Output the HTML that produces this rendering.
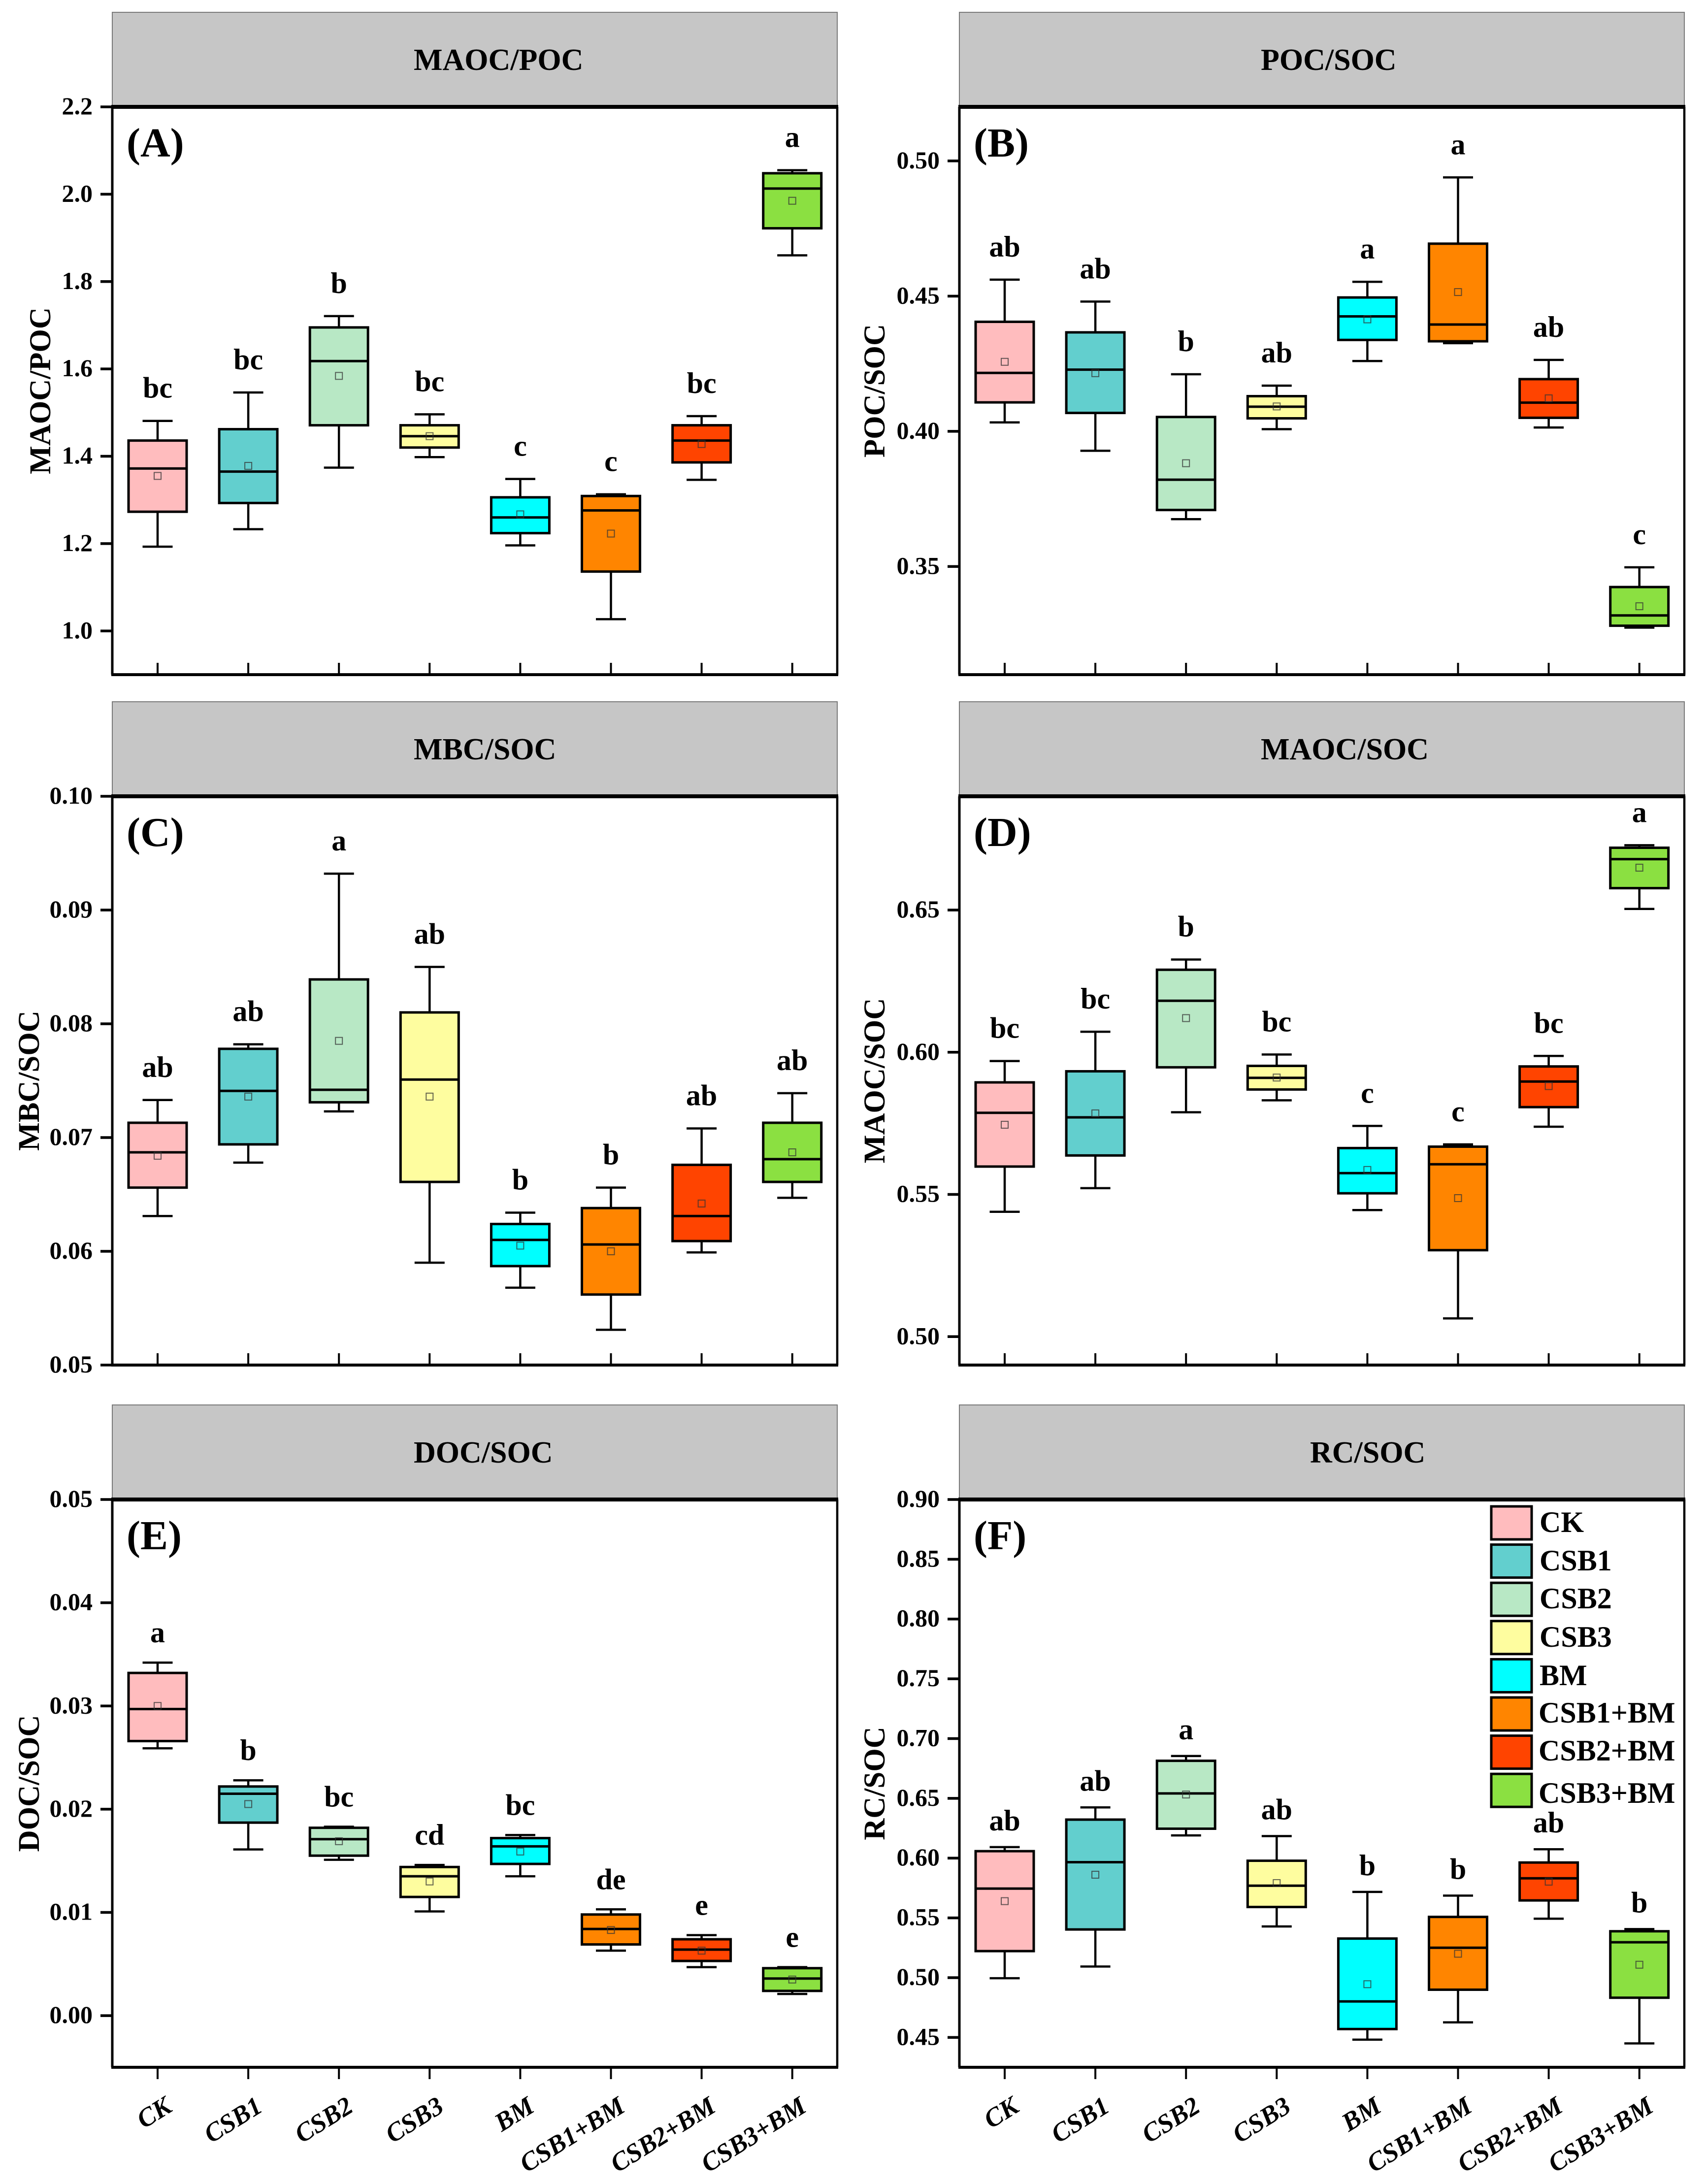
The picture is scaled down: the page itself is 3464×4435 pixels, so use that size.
<!DOCTYPE html>
<html lang="en">
<head>
<meta charset="utf-8">
<title>Soil carbon fraction ratios by treatment</title>
<style>
html,body{margin:0;padding:0;background:#fff;width:3464px;height:4435px;overflow:hidden}
svg{display:block}
text{font-family:"Liberation Serif","Times New Roman",serif;font-weight:bold;fill:#000}
</style>
</head>
<body>
<svg id="chart" xmlns="http://www.w3.org/2000/svg" width="3464" height="4435" viewBox="0 0 3464 4435"></svg>
<script>
const categories = ['CK','CSB1','CSB2','CSB3','BM','CSB1+BM','CSB2+BM','CSB3+BM'];
const boxColors = ['#ffbcbe','#62cfce','#b8e8c5','#fefd9f','#00ffff','#ff8500','#ff4400','#8be041'];

const aTicks = ['1.0','1.2','1.4','1.6','1.8','2.0','2.2'];
const aHigh = [1.481,1.546,1.721,1.496,1.348,1.313,1.492,2.055];
const aQ3 = [1.436,1.462,1.695,1.471,1.306,1.309,1.471,2.048];
const aMedian = [1.372,1.365,1.618,1.446,1.260,1.276,1.436,2.013];
const aQ1 = [1.273,1.293,1.471,1.420,1.224,1.136,1.386,1.922];
const aLow = [1.193,1.233,1.374,1.398,1.196,1.027,1.346,1.860];
const aMean = [1.355,1.378,1.584,1.446,1.267,1.223,1.428,1.985];
const aLetters = ['bc','bc','b','bc','c','c','bc','a'];

const bTicks = ['0.35','0.40','0.45','0.50'];
const bHigh = [.4561,.4480,.4211,.4169,.4553,.4939,.4264,.3497];
const bQ3 = [.4405,.4366,.4053,.4130,.4495,.4694,.4193,.3424];
const bMedian = [.4216,.4228,.3821,.4091,.4425,.4395,.4106,.3319];
const bQ1 = [.4107,.4068,.3709,.4048,.4338,.4333,.4050,.3281];
const bLow = [.4033,.3928,.3675,.4008,.4260,.4326,.4014,.3274];
const bMean = [.4257,.4215,.3882,.4092,.4414,.4515,.4122,.3353];
const bLetters = ['ab','ab','b','ab','a','a','ab','c'];

const cTicks = ['0.05','0.06','0.07','0.08','0.09','0.10'];
const cHigh = [.0733,.0782,.0932,.0850,.0634,.0656,.0708,.0739];
const cQ3 = [.0713,.0778,.0839,.0810,.0624,.0638,.0676,.0713];
const cMedian = [.0687,.0741,.0742,.0751,.0610,.0606,.0631,.0681];
const cQ1 = [.0656,.0694,.0731,.0661,.0587,.0562,.0609,.0661];
const cLow = [.0631,.0678,.0723,.0590,.0568,.0531,.0599,.0647];
const cMean = [.0684,.0736,.0785,.0736,.0605,.0600,.0642,.0687];
const cLetters = ['ab','ab','a','ab','b','b','ab','ab'];

const dTicks = ['0.50','0.55','0.60','0.65'];
const dHigh = [.5969,.6072,.6326,.5992,.5741,.5676,.5987,.6728];
const dQ3 = [.5894,.5933,.6290,.5952,.5663,.5668,.5950,.6719];
const dMedian = [.5787,.5771,.6181,.5910,.5575,.5606,.5897,.6679];
const dQ1 = [.5598,.5637,.5947,.5869,.5504,.5304,.5807,.6577];
const dLow = [.5439,.5522,.5789,.5831,.5445,.5064,.5738,.6504];
const dMean = [.5745,.5785,.6120,.5911,.5586,.5487,.5881,.6649];
const dLetters = ['bc','bc','b','bc','c','c','bc','a'];

const eTicks = ['0.00','0.01','0.02','0.03','0.04','0.05'];
const eHigh = [.0342,.0228,.0183,.0146,.0175,.0103,.0078,.0047];
const eQ3 = [.0332,.0222,.0182,.0144,.0172,.0098,.0074,.0046];
const eMedian = [.0297,.0215,.0171,.0135,.0164,.0084,.0064,.0036];
const eQ1 = [.0266,.0187,.0155,.0115,.0147,.0069,.0053,.0024];
const eLow = [.0259,.0161,.0151,.0101,.0135,.0063,.0047,.0021];
const eMean = [.0300,.0205,.0169,.0130,.0159,.0083,.0063,.0035];
const eLetters = ['a','b','bc','cd','bc','de','e','e'];

const fTicks = ['0.45','0.50','0.55','0.60','0.65','0.70','0.75','0.80','0.85','0.90'];
const fHigh = [.6092,.6424,.6854,.6184,.5717,.5686,.6074,.5406];
const fQ3 = [.6058,.6322,.6814,.5978,.5327,.5508,.5963,.5388];
const fMedian = [.5745,.5966,.6541,.5769,.4801,.5250,.5831,.5296];
const fQ1 = [.5222,.5403,.6246,.5591,.4570,.4899,.5646,.4832];
const fLow = [.4995,.5093,.6190,.5428,.4481,.4626,.5493,.4450];
const fMean = [.5640,.5861,.6532,.5791,.4945,.5200,.5803,.5108];
const fLetters = ['ab','ab','a','ab','b','b','ab','b'];

const panels = [
 {key:'a',tag:'(A)',title:'MAOC/POC',axis:'MAOC/POC',left:228,top:217,bottom:1370,stripTop:25,titleX:840,axisX:102,min:.9,max:2.2,ticks:aTicks,hi:aHigh,q3:aQ3,med:aMedian,q1:aQ1,lo:aLow,mean:aMean,letters:aLetters,letterGap:47,xLabels:false},
 {key:'b',tag:'(B)',title:'POC/SOC',axis:'POC/SOC',left:1948,top:217,bottom:1370,stripTop:25,titleX:2560,axisX:1796,min:.31,max:.52,ticks:bTicks,hi:bHigh,q3:bQ3,med:bMedian,q1:bQ1,lo:bLow,mean:bMean,letters:bLetters,letterGap:47,xLabels:false},
 {key:'c',tag:'(C)',title:'MBC/SOC',axis:'MBC/SOC',left:228,top:1617,bottom:2772,stripTop:1425,titleX:840,axisX:79,min:.05,max:.10,ticks:cTicks,hi:cHigh,q3:cQ3,med:cMedian,q1:cQ1,lo:cLow,mean:cMean,letters:cLetters,letterGap:47,xLabels:false},
 {key:'d',tag:'(D)',title:'MAOC/SOC',axis:'MAOC/SOC',left:1948,top:1617,bottom:2772,stripTop:1425,titleX:2560,axisX:1796,min:.49,max:.69,ticks:dTicks,hi:dHigh,q3:dQ3,med:dMedian,q1:dQ1,lo:dLow,mean:dMean,letters:dLetters,letterGap:47,xLabels:false},
 {key:'e',tag:'(E)',title:'DOC/SOC',axis:'DOC/SOC',left:228,top:3045,bottom:4198,stripTop:2853,titleX:840,axisX:79,min:-.005,max:.05,ticks:eTicks,hi:eHigh,q3:eQ3,med:eMedian,q1:eQ1,lo:eLow,mean:eMean,letters:eLetters,letterGap:41,xLabels:true},
 {key:'f',tag:'(F)',title:'RC/SOC',axis:'RC/SOC',left:1948,top:3045,bottom:4198,stripTop:2853,titleX:2660,axisX:1796,min:.425,max:.90,ticks:fTicks,hi:fHigh,q3:fQ3,med:fMedian,q1:fQ1,lo:fLow,mean:fMean,letters:fLetters,letterGap:34,xLabels:true}
];

const legendBaselines = [3111,3189,3266,3344,3422,3498,3575,3661];

const NS = 'http://www.w3.org/2000/svg';
const root = document.getElementById('chart');
const PANEL_W = 1472, STRIP_H = 192, BAND = 184.1, FIRST = 92, BOX_W = 118, CAP_W = 61, TICK = 24;

function mk(parent, tag, attrs, txt){
  const n = document.createElementNS(NS, tag);
  for (const k in attrs) n.setAttribute(k, attrs[k]);
  if (txt !== undefined) n.textContent = txt;
  parent.appendChild(n);
  return n;
}
function line(parent, x1, y1, x2, y2, w){
  return mk(parent, 'line', {x1:x1, y1:y1, x2:x2, y2:y2, stroke:'#000', 'stroke-width':w});
}

panels.forEach(function(p){
  const right = p.left + PANEL_W;
  const y = function(v){ return p.bottom - (v - p.min) / (p.max - p.min) * (p.bottom - p.top); };
  const x = function(i){ return p.left + FIRST + i * BAND; };

  const g = mk(root, 'g', {});
  
  

  const strip = mk(g, 'rect', {x:p.left, y:p.stripTop, width:PANEL_W, height:STRIP_H, fill:'#c6c6c6', stroke:'#7a7a7a', 'stroke-width':2});
  
  

  const title = mk(g, 'text', {x:p.titleX, y:p.stripTop + 117, 'font-size':62}, p.title);
  
  

  const plot = mk(g, 'rect', {x:p.left, y:p.top, width:PANEL_W, height:p.bottom - p.top, fill:'#fff'});
  
  

  p.ticks.forEach(function(label){
    const v = parseFloat(label);
    const tick = line(g, p.left - TICK, y(v), p.left, y(v), 5.5);
    
    
    const t = mk(g, 'text', {x:p.left - 40, y:y(v) + 15, 'font-size':50, 'text-anchor':'end'}, label);
    
    
  });

  const cy = (p.top + p.bottom) / 2;
  const axisTitle = mk(g, 'text', {x:p.axisX, y:cy, 'font-size':61, 'text-anchor':'middle', transform:'rotate(-90 ' + p.axisX + ' ' + cy + ')'}, p.axis);
  
  

  const tag = mk(g, 'text', {x:p.left + 29, y:p.top + 101, 'font-size':84}, p.tag);
  
  

  categories.forEach(function(cat, i){
    const cx = x(i);
    const box = mk(g, 'g', {});
    
    

    const whisker = line(box, cx, y(p.hi[i]), cx, y(p.lo[i]), 4.5);
    
    
    const capHi = line(box, cx - CAP_W / 2, y(p.hi[i]), cx + CAP_W / 2, y(p.hi[i]), 4.5);
    
    
    const capLo = line(box, cx - CAP_W / 2, y(p.lo[i]), cx + CAP_W / 2, y(p.lo[i]), 4.5);
    
    

    const body = mk(box, 'rect', {x:cx - BOX_W / 2, y:y(p.q3[i]), width:BOX_W, height:y(p.q1[i]) - y(p.q3[i]), fill:boxColors[i], stroke:'#000', 'stroke-width':5});
    
    
    const median = line(box, cx - BOX_W / 2, y(p.med[i]), cx + BOX_W / 2, y(p.med[i]), 5);
    
    
    const mean = mk(box, 'rect', {x:cx - 7, y:y(p.mean[i]) - 7, width:14, height:14, fill:'none', stroke:'#333', 'stroke-width':2, 'stroke-opacity':.75});
    
    

    const sig = mk(g, 'text', {x:cx, y:y(p.hi[i]) - p.letterGap, 'font-size':60, 'text-anchor':'middle'}, p.letters[i]);
    
    

    const tk = p.xLabels
      ? line(g, cx, p.bottom, cx, p.bottom + TICK, 4)
      : line(g, cx, p.bottom - TICK, cx, p.bottom, 4);
    
    

    if (p.xLabels) {
      const lx = cx + 32, ly = 4286;
      const xl = mk(g, 'text', {x:lx, y:ly, 'font-size':53, 'font-style':'italic', 'text-anchor':'end', transform:'rotate(-32 ' + lx + ' ' + ly + ')'}, cat);
      
      
    }
  });

  const axisLeft = line(g, p.left, p.top, p.left, p.bottom, 5);
  
  
  const axisRight = line(g, right, p.top, right, p.bottom, 4.5);
  
  
  const axisTop = line(g, p.left - 2, p.top, right + 2, p.top, 8);
  
  
  const axisBottom = line(g, p.left - 2, p.bottom, right + 2, p.bottom, 6);
  
  
});

const legend = mk(root, 'g', {});


categories.forEach(function(cat, i){
  const entry = mk(legend, 'g', {});
  
  
  const sw = mk(entry, 'rect', {x:3028, y:3059 + i * 77.6, width:82, height:67, fill:boxColors[i], stroke:'#000', 'stroke-width':5});
  
  
  const lab = mk(entry, 'text', {x:cat.indexOf('+') > 0 ? 3124 : 3126, y:legendBaselines[i], 'font-size':60}, cat);
  
  
});
</script>
</body>
</html>
